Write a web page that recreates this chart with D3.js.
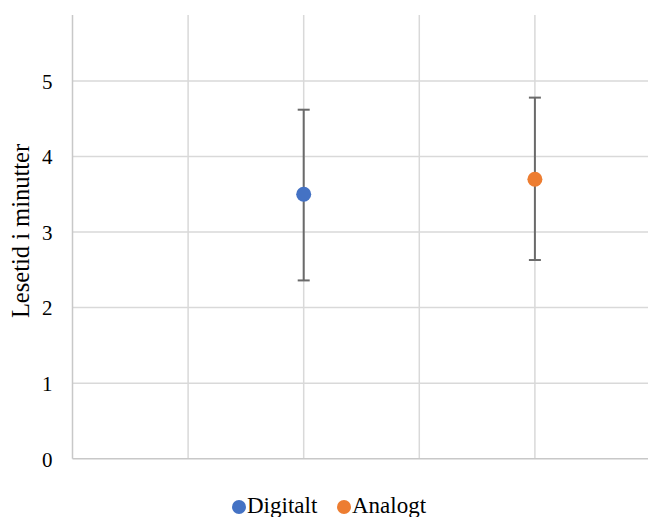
<!DOCTYPE html>
<html>
<head>
<meta charset="utf-8">
<script src="https://cdn.jsdelivr.net/npm/d3@7"></script>
<style>
  body { margin: 0; background: #fff; }
  text { font-family: "Liberation Serif", "Times New Roman", serif; fill: #000; }
</style>
</head>
<body>
<script>
var w = 648;
var h = 517;

// data
var groups = ['Digitalt', 'Analogt'];
var xPos = [2, 4];
var means = [3.5, 3.70];
var errLow = [2.36, 2.63];
var errHigh = [4.62, 4.78];
var colors = ['#4472C4', '#ED7D31'];
var yTicks = [0, 1, 2, 3, 4, 5];
var xTicks = [0, 1, 2, 3, 4, 5];

var x = d3.scaleLinear().domain([0, 5]).range([72.5, 650.5]);
var y = d3.scaleLinear().domain([0, 5]).range([458.7, 81]);
var plotTop = 15;

var svg = d3.select('body').append('svg')
  .attr('width', w)
  .attr('height', h);

// horizontal grid
svg.append('g')
  .selectAll('line')
  .data(yTicks.filter(function(d) { return d > 0; }))
  .enter().append('line')
  .attr('x1', x(0)).attr('x2', w)
  .attr('y1', function(d) { return y(d); })
  .attr('y2', function(d) { return y(d); })
  .attr('stroke', '#d9d9d9')
  .attr('stroke-width', 1.5);

// vertical grid
svg.append('g')
  .selectAll('line')
  .data(xTicks.filter(function(d) { return d > 0; }))
  .enter().append('line')
  .attr('x1', function(d) { return x(d); })
  .attr('x2', function(d) { return x(d); })
  .attr('y1', plotTop).attr('y2', y(0))
  .attr('stroke', '#d9d9d9')
  .attr('stroke-width', 1.5);

// axes lines
svg.append('line')
  .attr('x1', x(0)).attr('x2', x(0))
  .attr('y1', plotTop).attr('y2', y(0))
  .attr('stroke', '#c8c8c8').attr('stroke-width', 1.5);
svg.append('line')
  .attr('x1', x(0)).attr('x2', w)
  .attr('y1', y(0)).attr('y2', y(0))
  .attr('stroke', '#c8c8c8').attr('stroke-width', 1.5);

// y tick labels
var yAxis = d3.axisLeft(y).tickValues(yTicks).tickFormat(d3.format('d'))
  .tickSize(0).tickPadding(20);
var ga = svg.append('g')
  .attr('transform', 'translate(' + x(0) + ',0)')
  .call(yAxis);
ga.select('.domain').remove();
ga.selectAll('text')
  .style('font-family', '"Liberation Serif", "Times New Roman", serif')
  .style('font-size', '21px')
  .attr('fill', '#000')
  .attr('dy', '0.35em');

// y title
svg.append('text')
  .attr('transform', 'translate(29,' + 231 + ') rotate(-90)')
  .attr('text-anchor', 'middle')
  .style('font-size', '24.5px')
  .text('Lesetid i minutter');

// error bars
var eb = svg.append('g');
groups.forEach(function(g, i) {
  var cx = x(xPos[i]);
  eb.append('line')
    .attr('x1', cx).attr('x2', cx)
    .attr('y1', y(errHigh[i])).attr('y2', y(errLow[i]))
    .attr('stroke', '#6a6a6a').attr('stroke-width', 2);
  [errHigh[i], errLow[i]].forEach(function(v) {
    eb.append('line')
      .attr('x1', cx - 6).attr('x2', cx + 6)
      .attr('y1', y(v)).attr('y2', y(v))
      .attr('stroke', '#6a6a6a').attr('stroke-width', 2);
  });
});

// points
svg.append('g')
  .selectAll('circle')
  .data(groups)
  .enter().append('circle')
  .attr('cx', function(d, i) { return x(xPos[i]); })
  .attr('cy', function(d, i) { return y(means[i]); })
  .attr('r', 7.5)
  .attr('fill', function(d, i) { return colors[i]; });

// legend
var legX = [239, 344];
var leg = svg.append('g');
groups.forEach(function(g, i) {
  leg.append('circle')
    .attr('cx', legX[i]).attr('cy', 507)
    .attr('r', 7)
    .attr('fill', colors[i]);
  leg.append('text')
    .attr('x', legX[i] + 8).attr('y', 513)
    .style('font-size', '23px')
    .text(g);
});
</script>
</body>
</html>
